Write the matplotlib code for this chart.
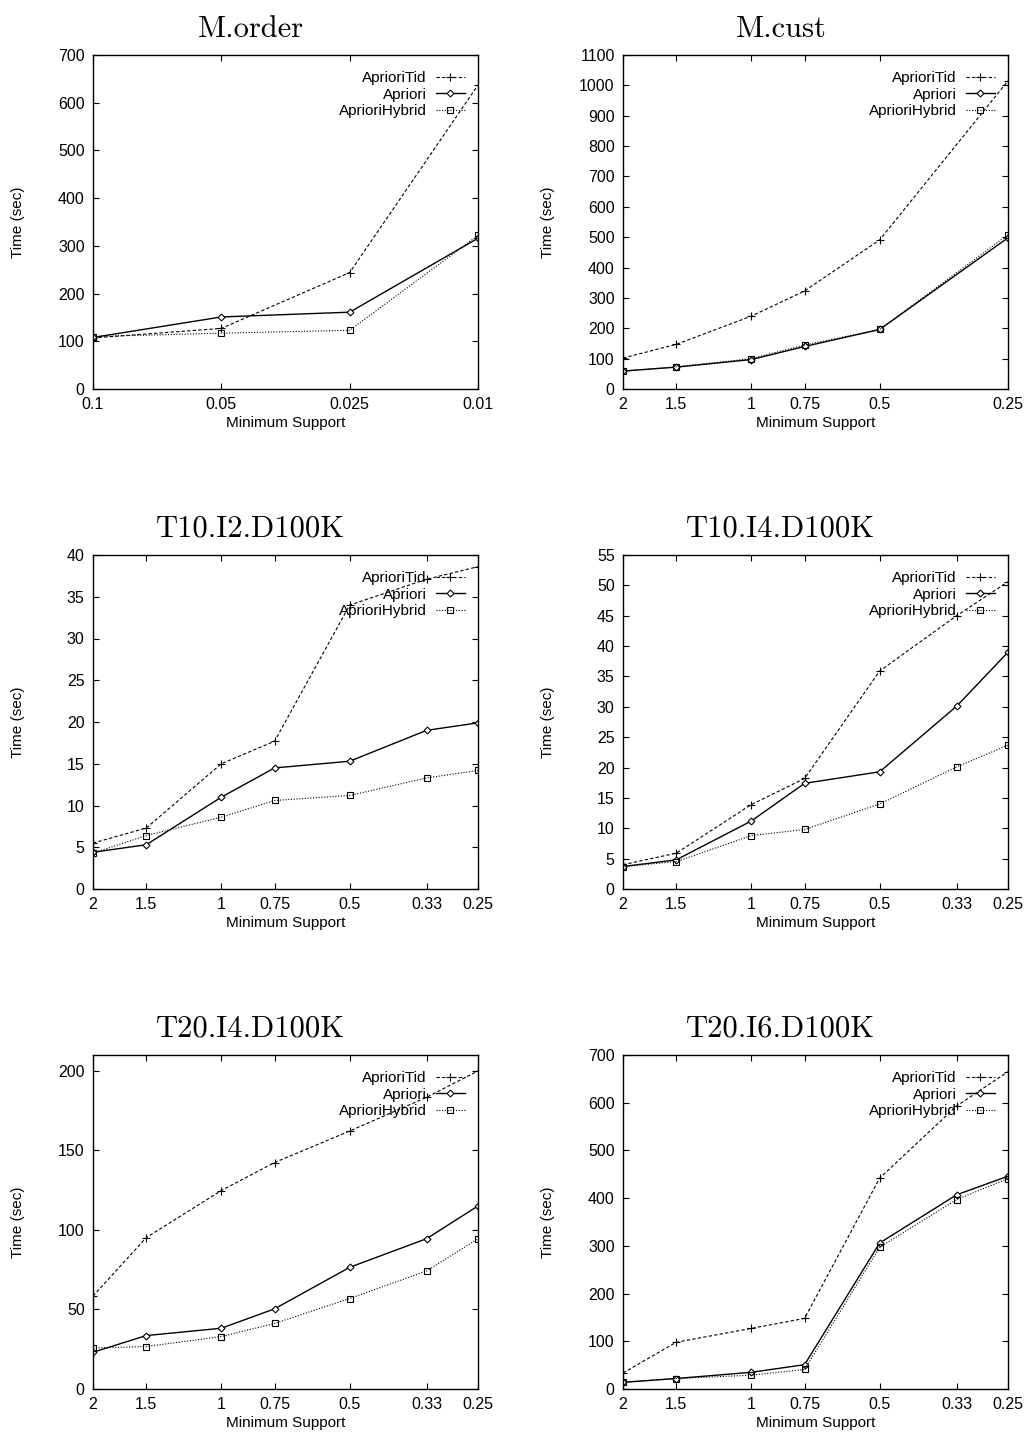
import numpy as np
from matplotlib import pyplot as plt
from matplotlib.legend import Legend
from matplotlib.ticker import NullLocator, MultipleLocator

plt.rcParams['font.family'] = ['Liberation Sans', 'DejaVu Sans']

# minimum support (%) used on the x axis
support_order = ['0.1', '0.05', '0.025', '0.01']
support_cust = [2, 1.5, 1, 0.75, 0.5, 0.25]
support_synth = [2, 1.5, 1, 0.75, 0.5, 0.33, 0.25]

# M.order
order_tid = [107, 127, 244, 637]
order_apriori = [108, 151, 161, 316]
order_hybrid = [110, 117, 123, 322]

# M.cust
cust_tid = [102, 147, 240, 323, 491, 1015]
cust_apriori = [59, 72, 97, 140, 196, 498]
cust_hybrid = [59, 73, 100, 145, 196, 508]

# T10.I2.D100K
t10i2_tid = [5.5, 7.3, 15.0, 17.7, 34.0, 37.1, 38.6]
t10i2_apriori = [4.4, 5.3, 11.0, 14.5, 15.3, 19.0, 19.9]
t10i2_hybrid = [4.3, 6.4, 8.6, 10.6, 11.2, 13.3, 14.2]

# T10.I4.D100K
t10i4_tid = [4.0, 5.9, 13.9, 18.2, 35.9, 45.0, 50.6]
t10i4_apriori = [3.7, 4.8, 11.2, 17.4, 19.3, 30.1, 39.0]
t10i4_hybrid = [3.7, 4.5, 8.8, 9.8, 14.0, 20.1, 23.7]

# T20.I4.D100K
t20i4_tid = [58.4, 95.2, 124.8, 142.4, 162.2, 183.4, 200]
t20i4_apriori = [23.1, 33.6, 38.2, 50.4, 76.5, 94.5, 115.1]
t20i4_hybrid = [25.8, 26.7, 33.0, 41.2, 56.9, 74.2, 94.5]

# T20.I6.D100K
t20i6_tid = [33.6, 98, 127, 148, 442, 593, 665]
t20i6_apriori = [14, 22, 35, 51, 306, 407, 446]
t20i6_hybrid = [14, 22, 29, 41, 297, 397, 441]

panels = [
    ('M.order', support_order, order_tid, order_apriori, order_hybrid, 700, 100),
    ('M.cust', support_cust, cust_tid, cust_apriori, cust_hybrid, 1100, 100),
    ('T10.I2.D100K', support_synth, t10i2_tid, t10i2_apriori, t10i2_hybrid, 40, 5),
    ('T10.I4.D100K', support_synth, t10i4_tid, t10i4_apriori, t10i4_hybrid, 55, 5),
    ('T20.I4.D100K', support_synth, t20i4_tid, t20i4_apriori, t20i4_hybrid, 210, 50),
    ('T20.I6.D100K', support_synth, t20i6_tid, t20i6_apriori, t20i6_hybrid, 700, 100),
]

fig = plt.figure(figsize=(10.24, 14.32), dpi=100)
W, H = 1024, 1432
lefts = [93, 623]
tops = [55, 555, 1055]
aw, ah = 385, 334

for i, (title, xs, tid, apr, hyb, ymax, ystep) in enumerate(panels):
    row, col = divmod(i, 2)
    ax = fig.add_axes([lefts[col] / W, 1 - (tops[row] + ah) / H, aw / W, ah / H])

    if isinstance(xs[0], str):
        x = np.arange(len(xs))
    else:
        x = np.array(xs, dtype=float)
        ax.set_xscale('log')
    ax.set_xlim(x[0], x[-1])

    lines = []
    lines += ax.plot(x, tid, color='black', lw=0.8, ls=(0, (3, 2)), marker='+', ms=6, mew=0.8,
                     label='AprioriTid')
    lines += ax.plot(x, apr, color='black', lw=1.0, ls='-', marker='D', ms=3.5, mfc='white', mew=0.8,
                     label='Apriori')
    lines += ax.plot(x, hyb, color='black', lw=0.8, ls=(0, (1, 1.5)), marker='s', ms=4.5, mfc='none',
                     mew=0.8, label='AprioriHybrid')

    ax.set_xticks(x)
    ax.set_xticklabels([str(v) for v in xs])
    ax.xaxis.set_minor_locator(NullLocator())
    ax.set_ylim(0, ymax)
    ax.yaxis.set_major_locator(MultipleLocator(ystep))

    ax.tick_params(direction='in', top=True, right=True, length=4, width=0.8,
                   labelsize=11.5, pad=6)
    for s in ax.spines.values():
        s.set_linewidth(1.0)

    ax.set_xlabel('Minimum Support', fontsize=11)
    ax.set_ylabel('Time (sec)', fontsize=11)
    ax.xaxis.set_label_coords(0.5, -27 / ah)
    ax.yaxis.set_label_coords(-68 / aw, 0.5)

    ax.set_title(title, fontsize=22, family='cmr10', x=0.41, pad=13)

    # one key per entry so that the labels line up on the right like gnuplot keys
    for k, ln in enumerate(lines):
        leg = Legend(ax, [ln], [ln.get_label()], loc='upper right', frameon=False,
                     markerfirst=False, fontsize=11, handlelength=1.9, handletextpad=0.6,
                     borderpad=0, borderaxespad=0,
                     bbox_to_anchor=(1 - 13 / aw, 1 - (16 + 16.5 * k) / ah))
        ax.add_artist(leg)

fig.savefig('out.png', dpi=100)
